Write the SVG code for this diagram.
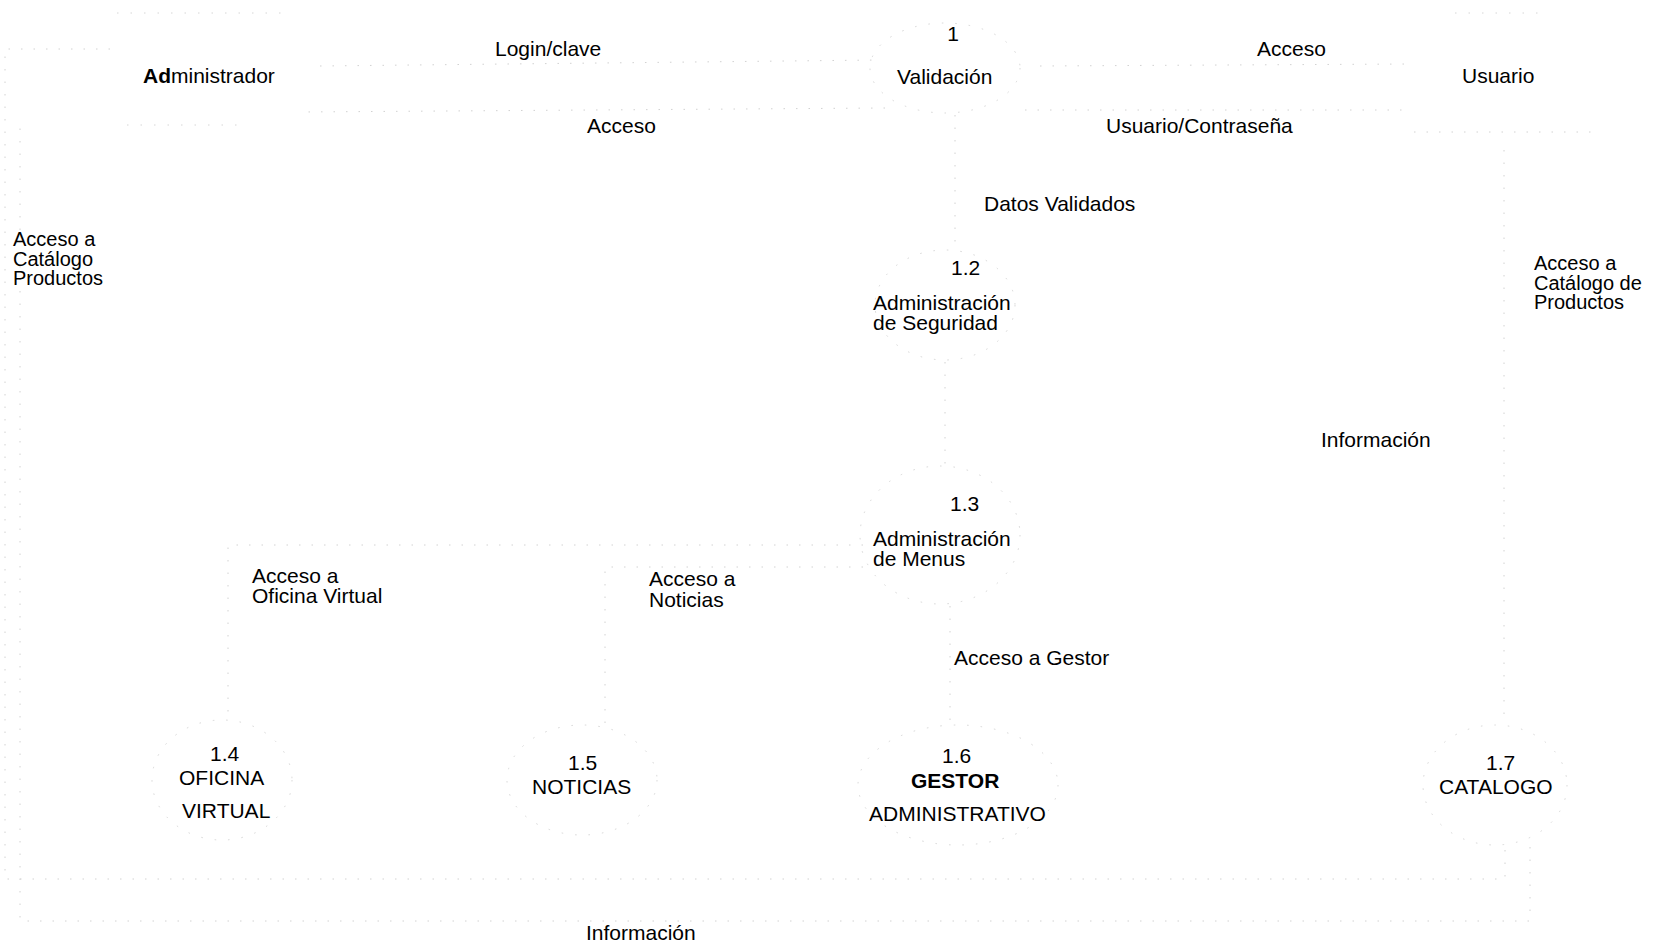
<svg xmlns="http://www.w3.org/2000/svg" width="1661" height="948" viewBox="0 0 1661 948">
<defs>
<style>
text{font-family:"Liberation Sans",Arial,sans-serif;font-size:21px;fill:#000}
.s{font-size:20px}
.b{font-weight:bold}
.fl{fill:none;stroke:#d2d2d2;stroke-width:1;stroke-dasharray:1.5 11}
.pr{fill:none;stroke:#d6d6d6;stroke-width:1;stroke-dasharray:1.5 12}
</style>
</defs>
<rect width="1661" height="948" fill="#fff"/>
<g id="connectors">
<path class="fl" d="M320,66 L880,60"/>
<path class="fl" d="M885,108 L300,112"/>
<path class="fl" d="M1040,66 L1410,64"/>
<path class="fl" d="M1025,110 L1410,110"/>
<path class="fl" d="M1414,132 L1595,132"/>
<path class="fl" d="M955,115 L955,248"/>
<path class="fl" d="M945,362 L945,466"/>
<path class="fl" d="M863,545 H228 V720"/>
<path class="fl" d="M863,567 H605 V727"/>
<path class="fl" d="M950,606 V724"/>
<path class="fl" d="M1504,150 V722"/>
<path class="fl" d="M110,49 H5 V879 H1505 V847"/>
<path class="fl" d="M1530,847 V921 H20 V125"/>
</g>
<g id="n-admin">
<path class="pr" d="M117,13 H281 M127,125 H240"/>
<text x="143" y="83"><tspan class="b">Ad</tspan>ministrador</text>
</g>
<g id="n-usuario">
<path class="pr" d="M1455,13 H1540"/>
<text x="1462" y="83">Usuario</text>
</g>
<g id="n-p1">
<ellipse class="pr" cx="945" cy="68" rx="75" ry="45"/>
<text x="953" y="41" text-anchor="middle">1</text>
<text x="897" y="84">Validación</text>
</g>
<g id="n-p12">
<ellipse class="pr" cx="945" cy="305" rx="70" ry="55"/>
<text x="951" y="275">1.2</text>
<text x="873" y="310">Administración</text>
<text x="873" y="330">de Seguridad</text>
</g>
<g id="n-p13">
<ellipse class="pr" cx="940" cy="535" rx="80" ry="69"/>
<text x="950" y="511">1.3</text>
<text x="873" y="546">Administración</text>
<text x="873" y="566">de Menus</text>
</g>
<g id="n-p14">
<ellipse class="pr" cx="222" cy="780" rx="70" ry="60"/>
<text x="210" y="761">1.4</text>
<text x="179" y="785">OFICINA</text>
<text x="182" y="818">VIRTUAL</text>
</g>
<g id="n-p15">
<ellipse class="pr" cx="582" cy="780" rx="75" ry="55"/>
<text x="568" y="770">1.5</text>
<text x="532" y="794">NOTICIAS</text>
</g>
<g id="n-p16">
<ellipse class="pr" cx="958" cy="785" rx="100" ry="60"/>
<text x="942" y="763">1.6</text>
<text x="911" y="788" class="b">GESTOR</text>
<text x="869" y="821">ADMINISTRATIVO</text>
</g>
<g id="n-p17">
<ellipse class="pr" cx="1495" cy="785" rx="72" ry="60"/>
<text x="1486" y="770">1.7</text>
<text x="1439" y="794">CATALOGO</text>
</g>
<g id="labels">
<text x="495" y="56">Login/clave</text>
<text x="1257" y="56">Acceso</text>
<text x="587" y="133">Acceso</text>
<text x="1106" y="133">Usuario/Contraseña</text>
<text x="984" y="211">Datos Validados</text>
<text class="s" x="13" y="246">Acceso a</text>
<text class="s" x="13" y="265.5">Catálogo</text>
<text class="s" x="13" y="285">Productos</text>
<text class="s" x="1534" y="270">Acceso a</text>
<text class="s" x="1534" y="289.5">Catálogo de</text>
<text class="s" x="1534" y="309">Productos</text>
<text x="1321" y="447">Información</text>
<text x="252" y="583">Acceso a</text>
<text x="252" y="603">Oficina Virtual</text>
<text x="649" y="586">Acceso a</text>
<text x="649" y="607">Noticias</text>
<text x="954" y="665">Acceso a Gestor</text>
<text x="586" y="940">Información</text>
</g>
</svg>
